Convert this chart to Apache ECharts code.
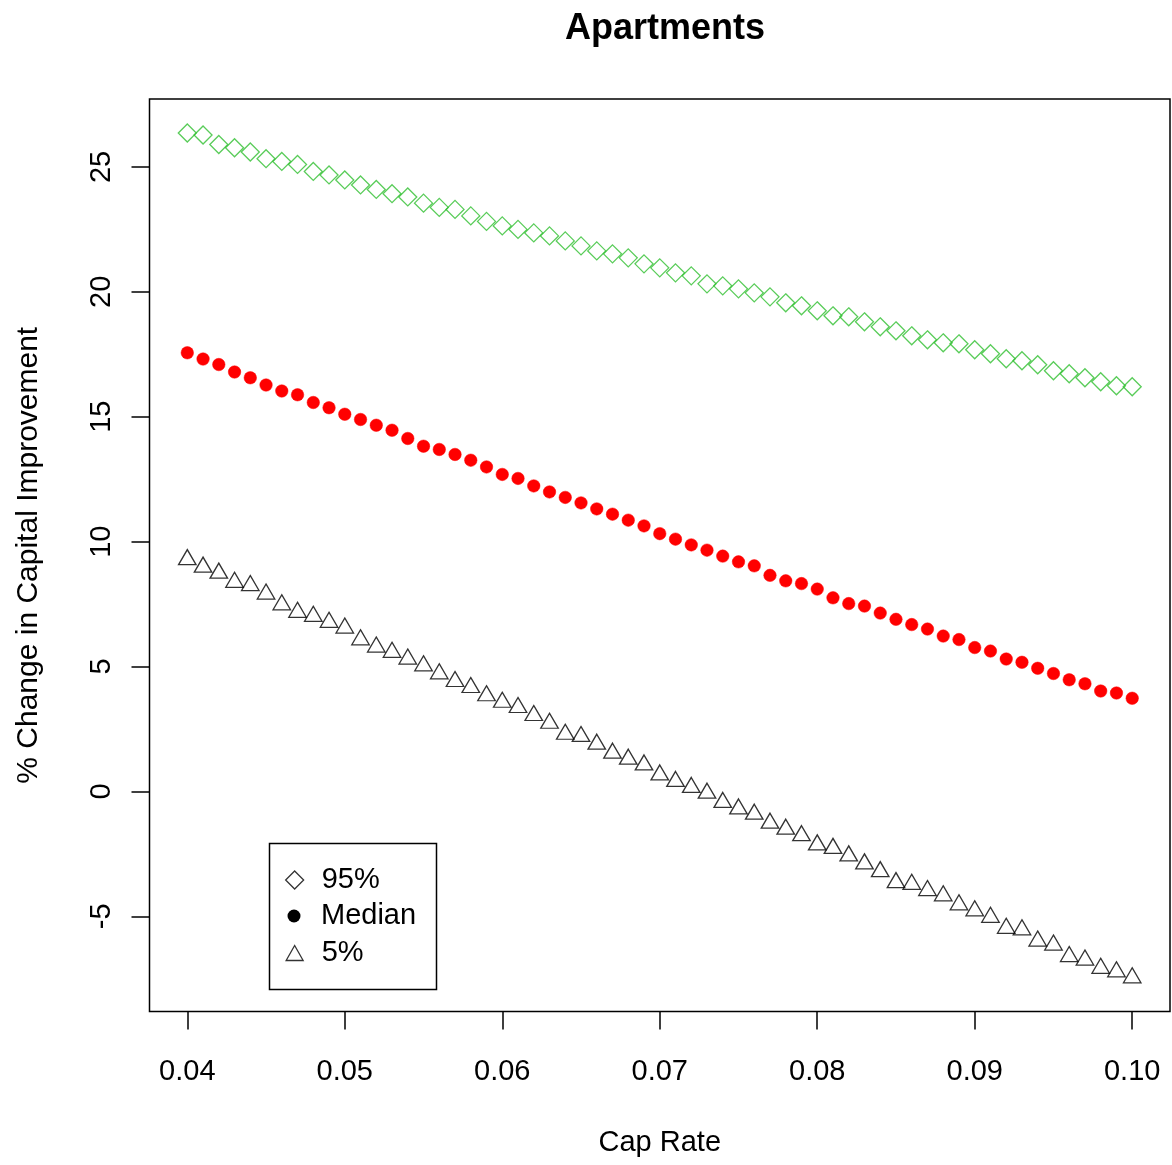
<!DOCTYPE html>
<html>
<head>
<meta charset="utf-8">
<script src="https://cdn.jsdelivr.net/npm/echarts@6/dist/echarts.min.js"></script>
<style>
html,body{margin:0;padding:0;background:#fff;}
#chart{width:1172px;height:1165px;}
</style>
</head>
<body>
<div id="chart"></div>
<script>
const capRate = [0.040,0.041,0.042,0.043,0.044,0.045,0.046,0.047,0.048,0.049,
  0.050,0.051,0.052,0.053,0.054,0.055,0.056,0.057,0.058,0.059,
  0.060,0.061,0.062,0.063,0.064,0.065,0.066,0.067,0.068,0.069,
  0.070,0.071,0.072,0.073,0.074,0.075,0.076,0.077,0.078,0.079,
  0.080,0.081,0.082,0.083,0.084,0.085,0.086,0.087,0.088,0.089,
  0.090,0.091,0.092,0.093,0.094,0.095,0.096,0.097,0.098,0.099,0.100];
const p95 = [26.36,26.28,25.90,25.77,25.60,25.33,25.22,25.10,24.82,24.68,
  24.48,24.28,24.10,23.93,23.80,23.55,23.38,23.30,23.04,22.82,
  22.64,22.50,22.36,22.24,22.04,21.84,21.64,21.52,21.36,21.12,
  20.96,20.76,20.64,20.32,20.24,20.12,19.96,19.80,19.56,19.44,
  19.24,19.04,19.00,18.80,18.60,18.44,18.24,18.08,17.96,17.92,
  17.68,17.52,17.32,17.24,17.08,16.84,16.72,16.56,16.40,16.24,16.20];
const median = [17.56,17.31,17.09,16.79,16.56,16.27,16.03,15.88,15.57,15.36,
  15.10,14.89,14.66,14.46,14.13,13.82,13.69,13.49,13.26,12.99,
  12.69,12.53,12.23,11.99,11.77,11.55,11.31,11.10,10.86,10.63,
  10.32,10.10,9.87,9.66,9.42,9.19,9.03,8.65,8.43,8.32,
  8.10,7.75,7.52,7.42,7.14,6.89,6.68,6.50,6.22,6.08,
  5.76,5.62,5.30,5.17,4.93,4.72,4.47,4.31,4.02,3.94,3.73];
const p5 = [9.28,8.98,8.74,8.37,8.24,7.90,7.47,7.17,7.01,6.77,
  6.54,6.07,5.78,5.57,5.30,5.03,4.71,4.40,4.16,3.83,
  3.57,3.36,3.04,2.73,2.29,2.20,1.89,1.53,1.29,1.06,
  0.66,0.40,0.16,-0.07,-0.44,-0.70,-0.91,-1.27,-1.51,-1.77,
  -2.14,-2.28,-2.58,-2.90,-3.21,-3.65,-3.72,-3.97,-4.18,-4.54,
  -4.78,-5.04,-5.48,-5.54,-5.99,-6.15,-6.61,-6.75,-7.08,-7.22,-7.46];
const xTicks = [0.04,0.05,0.06,0.07,0.08,0.09,0.10];
const yTicks = [-5,0,5,10,15,20,25];
const seriesNames = ['95%','Median','5%'];

const FONT = "'Liberation Sans', Arial, sans-serif";
const pairs = arr => capRate.map((x, i) => [x, arr[i]]);

const chart = echarts.init(document.getElementById('chart'), null, {renderer: 'canvas'});
const legendText = {fontFamily: FONT, fontSize: 29, color: '#000'};
chart.setOption({
  animation: false,
  backgroundColor: '#fff',
  title: {
    text: 'Apartments', left: 660, top: 6, textAlign: 'center',
    textStyle: {fontFamily: FONT, fontSize: 36, fontWeight: 'bold', color: '#000'}
  },
  grid: {left: 149.5, right: 2, top: 99, bottom: 153.5, show: true, borderColor: '#000', borderWidth: 1.5, backgroundColor: 'transparent'},
  xAxis: {
    type: 'value', min: 0.0376, max: 0.1024,
    name: 'Cap Rate', nameLocation: 'middle', nameGap: 117,
    nameTextStyle: {fontFamily: FONT, fontSize: 29, color: '#000'},
    splitLine: {show: false},
    axisLine: {show: false, onZero: false},
    axisTick: {show: true, inside: false, length: 18, lineStyle: {color: '#000', width: 1.5}, customValues: xTicks},
    axisLabel: {margin: 46, fontFamily: FONT, fontSize: 29, color: '#000', customValues: xTicks, formatter: v => Number(v).toFixed(2)}
  },
  yAxis: {
    type: 'value', min: -8.81, max: 27.72,
    name: '% Change in Capital Improvement', nameLocation: 'middle', nameGap: 106,
    nameTextStyle: {fontFamily: FONT, fontSize: 30, color: '#000'},
    splitLine: {show: false},
    axisLine: {show: false, onZero: false},
    axisTick: {show: true, inside: false, length: 18, lineStyle: {color: '#000', width: 1.5}, customValues: yTicks},
    axisLabel: {margin: 33, rotate: 90, fontFamily: FONT, fontSize: 29, color: '#000', customValues: yTicks}
  },
  legend: [
    {data: [seriesNames[0]], icon: 'diamond', itemWidth: 18, itemHeight: 18, left: 285, top: 865.5, padding: 0, selectedMode: false,
     itemStyle: {color: 'rgba(0,0,0,0)', borderColor: '#000', borderWidth: 1.3},
     textStyle: Object.assign({padding: [0,0,0,13]}, legendText)},
    {data: [seriesNames[1]], icon: 'circle', itemWidth: 13, itemHeight: 13, left: 287.5, top: 901.5, padding: 0, selectedMode: false,
     itemStyle: {color: '#000', borderWidth: 0},
     textStyle: Object.assign({padding: [0,0,0,15.5]}, legendText)},
    {data: [seriesNames[2]], icon: 'triangle', itemWidth: 17, itemHeight: 15, left: 285.5, top: 938.5, padding: 0, selectedMode: false,
     itemStyle: {color: 'rgba(0,0,0,0)', borderColor: '#000', borderWidth: 1.3},
     textStyle: Object.assign({padding: [0,0,0,13.5]}, legendText)}
  ],
  graphic: [{
    type: 'rect', left: 267, top: 841, z: 100,
    shape: {width: 167, height: 146},
    style: {fill: 'none', stroke: '#000', lineWidth: 1.5}
  }],
  series: [
    {name: seriesNames[0], type: 'scatter', data: pairs(p95), symbol: 'diamond', symbolSize: 18,
     itemStyle: {color: 'rgba(0,0,0,0)', borderColor: '#2fbf2f', borderWidth: 1.3}},
    {name: seriesNames[1], type: 'scatter', data: pairs(median), symbol: 'circle', symbolSize: 12.5,
     itemStyle: {color: '#ff0000', opacity: 1, borderColor: '#ff0000', borderWidth: 0.5}},
    {name: seriesNames[2], type: 'scatter', data: pairs(p5), symbol: 'triangle', symbolSize: [17.5, 15], symbolOffset: [0, -2.5],
     itemStyle: {color: 'rgba(0,0,0,0)', borderColor: '#000', borderWidth: 1.3}}
  ]
});
</script>
</body>
</html>
